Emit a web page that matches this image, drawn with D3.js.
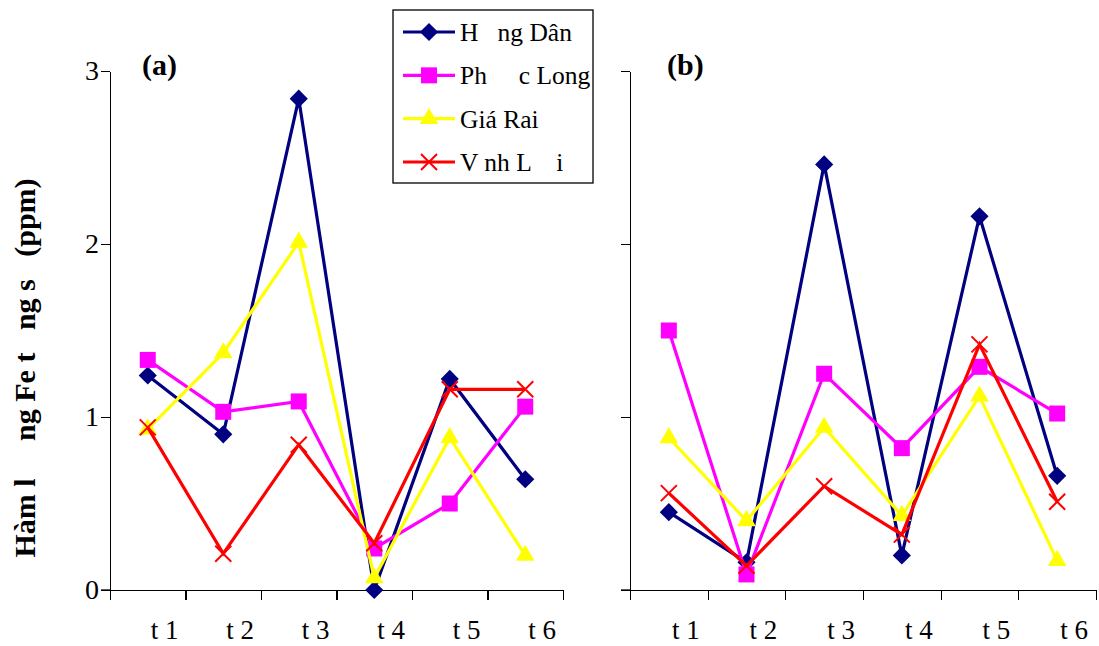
<!doctype html>
<html lang="vi">
<head>
  <meta charset="utf-8">
  <title>Fe</title>
  <style>
  body { margin: 0; background: #fff; }
  svg text { font-family: "Liberation Serif", "Times New Roman", serif; fill: #000; white-space: pre; }
  .axis path, .axis line { stroke: #000; stroke-width: 1.3; shape-rendering: crispEdges; }
  </style>
</head>
<body>
  <div id="chart"></div>
  <script src="https://cdn.jsdelivr.net/npm/d3@7"></script>
  <script>
// categories and tick labels
var times = ["t 1", "t 2", "t 3", "t 4", "t 5", "t 6"];
var yTicks = [0, 1, 2, 3];
var seriesNames = ["H   ng Dân", "Ph     c Long", "Giá Rai", "V nh L    i"];

// panel (a)
var aHongDan  = [1.24, 0.90, 2.84, 0.00, 1.22, 0.64];
var aPhuocLong = [1.33, 1.03, 1.09, 0.24, 0.50, 1.06];
var aGiaRai   = [0.93, 1.37, 2.01, 0.07, 0.88, 0.20];
var aVinhLoi  = [0.94, 0.21, 0.84, 0.27, 1.16, 1.16];

// panel (b)
var bHongDan  = [0.45, 0.16, 2.46, 0.20, 2.16, 0.66];
var bPhuocLong = [1.50, 0.09, 1.25, 0.82, 1.29, 1.02];
var bGiaRai   = [0.88, 0.40, 0.94, 0.43, 1.12, 0.17];
var bVinhLoi  = [0.56, 0.14, 0.60, 0.32, 1.42, 0.51];

(function() {
  var width = 1099, height = 646;
  var colors = ["#000080", "#ff00ff", "#ffff00", "#ff0000"];
  var shapes = ["diamond", "square", "triangle", "cross"];

  var svg = d3.select("#chart").append("svg")
      .attr("width", width)
      .attr("height", height);

  var y = d3.scaleLinear().domain([0, 3]).range([590, 71]);

  function marker(g, shape, color) {
    if (shape === "diamond") {
      g.append("path").attr("d", d3.symbol(d3.symbolSquare, 165)())
        .attr("transform", "rotate(45)").attr("fill", color);
    } else if (shape === "square") {
      g.append("path").attr("d", d3.symbol(d3.symbolSquare, 256)()).attr("fill", color);
    } else if (shape === "triangle") {
      g.append("path").attr("d", d3.symbol(d3.symbolTriangle, 150)()).attr("fill", color);
    } else {
      g.append("path").attr("d", "M-8,-8L8,8M-8,8L8,-8")
        .attr("stroke", color).attr("stroke-width", 2).attr("fill", "none");
    }
  }

  function panel(x0, x1, data, showLabels, title, tx) {
    var x = d3.scaleBand().domain(times).range([x0, x1]);
    var xb = d3.scaleLinear().domain([0, 6]).range([x0, x1]);
    var g = svg.append("g");

    var ya = g.append("g").attr("class", "axis")
      .attr("transform", "translate(" + x0 + ",0)")
      .call(d3.axisLeft(y).tickValues(yTicks).tickSize(9).tickSizeOuter(0)
        .tickFormat(showLabels ? d3.format("d") : ""));
    ya.selectAll("text").attr("font-size", 28).attr("dx", 1).attr("dy", "0.3em");

    g.append("g").attr("class", "axis")
      .attr("transform", "translate(0," + y(0) + ")")
      .call(d3.axisBottom(xb).ticks(6).tickSize(10).tickSizeOuter(0).tickFormat(""));
    g.append("line").attr("x1", x0 - 9).attr("x2", x0).attr("y1", y(0)).attr("y2", y(0))
      .attr("stroke", "#000").attr("stroke-width", 1.3);

    g.selectAll(".tlabel").data(times).enter().append("text")
      .attr("x", function(d) { return x(d) + x.bandwidth() / 2 + 17; })
      .attr("y", 639)
      .attr("text-anchor", "middle")
      .attr("font-size", 27)
      .text(function(d) { return d; });

    g.append("text").attr("x", tx).attr("y", 75)
      .attr("font-size", 30).attr("font-weight", "bold").text(title);

    var line = d3.line()
      .x(function(d, i) { return x(times[i]) + x.bandwidth() / 2; })
      .y(function(d) { return y(d); });

    data.forEach(function(vals, s) {
      var sg = g.append("g");
      sg.append("path").attr("d", line(vals))
        .attr("fill", "none").attr("stroke", colors[s]).attr("stroke-width", 3.2);
      vals.forEach(function(v, i) {
        var m = sg.append("g").attr("transform",
          "translate(" + (x(times[i]) + x.bandwidth() / 2) + "," + y(v) + ")");
        marker(m, shapes[s], colors[s]);
      });
    });
  }

  panel(110, 563, [aHongDan, aPhuocLong, aGiaRai, aVinhLoi], true, "(a)", 142);
  panel(630, 1096, [bHongDan, bPhuocLong, bGiaRai, bVinhLoi], false, "(b)", 667);

  // y title
  svg.append("text")
    .attr("transform", "translate(35,368) rotate(-90)")
    .attr("text-anchor", "middle")
    .attr("font-size", 30).attr("font-weight", "bold")
    .text("Hàm l     ng Fe t   ng s   (ppm)");

  // legend
  var lg = svg.append("g");
  lg.append("rect").attr("x", 393).attr("y", 10).attr("width", 200).attr("height", 173)
    .attr("fill", "#fff").attr("stroke", "#000").attr("stroke-width", 1.3);
  var rowY = d3.scalePoint().domain(seriesNames).range([32, 162]);
  seriesNames.forEach(function(name, s) {
    var ry = rowY(name);
    lg.append("line").attr("x1", 403).attr("x2", 455).attr("y1", ry).attr("y2", ry)
      .attr("stroke", colors[s]).attr("stroke-width", 3.2);
    var m = lg.append("g").attr("transform", "translate(429," + ry + ")");
    marker(m, shapes[s], colors[s]);
    lg.append("text").attr("x", 460).attr("y", ry + 9)
      .attr("font-size", 25.5).text(name);
  });
})();
  </script>
</body>
</html>
